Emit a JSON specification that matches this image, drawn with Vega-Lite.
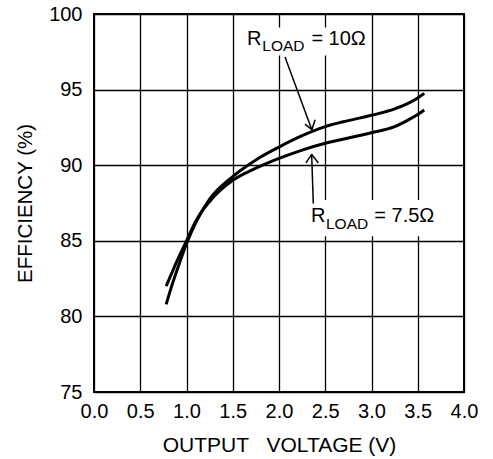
{
  "$schema": "https://vega.github.io/schema/vega-lite/v6.json",
  "width": 370,
  "height": 378,
  "autosize": {"type": "none"},
  "padding": {"left": 94, "top": 14, "right": 29, "bottom": 67},
  "background": "white",
  "config": {
    "font": "Liberation Sans",
    "view": {"stroke": "black", "strokeWidth": 2},
    "axis": {
      "domain": false,
      "ticks": false,
      "grid": true,
      "gridColor": "black",
      "gridWidth": 1.3,
      "gridOpacity": 1,
      "labelFlush": false,
      "labelOverlap": false,
      "labelFont": "Liberation Sans",
      "labelFontSize": 20,
      "labelColor": "black",
      "titleFont": "Liberation Sans",
      "titleFontSize": 21,
      "titleFontWeight": "normal",
      "titleColor": "black"
    }
  },
  "datasets": {
    "curves": [
      {"v": 0.78, "eff": 80.8, "load": "10"},
      {"v": 0.85, "eff": 82.2, "load": "10"},
      {"v": 0.9, "eff": 83.1, "load": "10"},
      {"v": 1.0, "eff": 84.8, "load": "10"},
      {"v": 1.1, "eff": 86.2, "load": "10"},
      {"v": 1.25, "eff": 87.75, "load": "10"},
      {"v": 1.5, "eff": 89.25, "load": "10"},
      {"v": 1.75, "eff": 90.35, "load": "10"},
      {"v": 2.0, "eff": 91.2, "load": "10"},
      {"v": 2.25, "eff": 91.95, "load": "10"},
      {"v": 2.5, "eff": 92.55, "load": "10"},
      {"v": 2.75, "eff": 92.95, "load": "10"},
      {"v": 3.0, "eff": 93.3, "load": "10"},
      {"v": 3.25, "eff": 93.72, "load": "10"},
      {"v": 3.4, "eff": 94.1, "load": "10"},
      {"v": 3.5, "eff": 94.45, "load": "10"},
      {"v": 3.57, "eff": 94.75, "load": "10"},
      {"v": 0.78, "eff": 82.0, "load": "7.5"},
      {"v": 0.85, "eff": 83.0, "load": "7.5"},
      {"v": 0.9, "eff": 83.7, "load": "7.5"},
      {"v": 1.0, "eff": 85.0, "load": "7.5"},
      {"v": 1.1, "eff": 86.3, "load": "7.5"},
      {"v": 1.25, "eff": 87.6, "load": "7.5"},
      {"v": 1.5, "eff": 89.0, "load": "7.5"},
      {"v": 1.75, "eff": 89.8, "load": "7.5"},
      {"v": 2.0, "eff": 90.45, "load": "7.5"},
      {"v": 2.25, "eff": 91.0, "load": "7.5"},
      {"v": 2.5, "eff": 91.45, "load": "7.5"},
      {"v": 2.75, "eff": 91.8, "load": "7.5"},
      {"v": 3.0, "eff": 92.15, "load": "7.5"},
      {"v": 3.25, "eff": 92.55, "load": "7.5"},
      {"v": 3.4, "eff": 93.0, "load": "7.5"},
      {"v": 3.5, "eff": 93.35, "load": "7.5"},
      {"v": 3.57, "eff": 93.65, "load": "7.5"}
    ],
    "boxes": [
      {"x1": 1.63, "x2": 2.97, "y1": 99.1, "y2": 97.25},
      {"x1": 2.31, "x2": 3.72, "y1": 87.7, "y2": 85.3}
    ],
    "segments": [
      {"x1": 2.065, "y1": 97.15, "x2": 2.355, "y2": 92.35},
      {"x1": 2.355, "y1": 92.35, "x2": 2.281, "y2": 92.72},
      {"x1": 2.355, "y1": 92.35, "x2": 2.39, "y2": 93.0},
      {"x1": 2.371, "y1": 87.46, "x2": 2.353, "y2": 90.72},
      {"x1": 2.353, "y1": 90.72, "x2": 2.292, "y2": 90.15},
      {"x1": 2.353, "y1": 90.72, "x2": 2.425, "y2": 90.15}
    ],
    "labels": [
      {"x": 1.654, "y": 97.92, "t": "R", "s": "main"},
      {"x": 1.82, "y": 97.54, "t": "LOAD", "s": "sub"},
      {"x": 2.35, "y": 97.92, "t": "= 10Ω", "s": "main"},
      {"x": 2.346, "y": 86.25, "t": "R", "s": "main"},
      {"x": 2.508, "y": 85.81, "t": "LOAD", "s": "sub"},
      {"x": 3.03, "y": 86.25, "t": "= 7.5Ω", "s": "main"}
    ]
  },
  "layer": [
    {
      "data": {"name": "boxes"},
      "mark": {"type": "rect", "fill": "white", "stroke": null},
      "encoding": {
        "x": {"field": "x1", "type": "quantitative", "scale": {"domain": [0, 4], "padding": 0, "nice": false, "zero": false},
          "axis": {"values": [0, 0.5, 1, 1.5, 2, 2.5, 3, 3.5, 4], "format": ".1f", "labelPadding": 9, "title": "OUTPUT\u00a0\u00a0\u00a0VOLTAGE (V)", "titlePadding": 13}},
        "x2": {"field": "x2"},
        "y": {"field": "y1", "type": "quantitative", "scale": {"domain": [75, 100], "padding": 0, "nice": false, "zero": false},
          "axis": {"values": [75, 80, 85, 90, 95, 100], "labelPadding": 12, "title": "EFFICIENCY (%)", "titleFontSize": 20.5, "titlePadding": 13}},
        "y2": {"field": "y2"}
      }
    },
    {
      "data": {"name": "curves"},
      "mark": {"type": "line", "color": "black", "strokeWidth": 3, "interpolate": "monotone"},
      "encoding": {
        "x": {"field": "v", "type": "quantitative"},
        "y": {"field": "eff", "type": "quantitative"},
        "detail": {"field": "load"}
      }
    },
    {
      "data": {"name": "segments"},
      "mark": {"type": "rule", "color": "black", "strokeWidth": 1.5},
      "encoding": {
        "x": {"field": "x1", "type": "quantitative"},
        "y": {"field": "y1", "type": "quantitative"},
        "x2": {"field": "x2"},
        "y2": {"field": "y2"}
      }
    },
    {
      "data": {"name": "labels"},
      "mark": {"type": "text", "align": "left", "baseline": "alphabetic", "color": "black", "font": "Liberation Sans"},
      "encoding": {
        "x": {"field": "x", "type": "quantitative"},
        "y": {"field": "y", "type": "quantitative"},
        "text": {"field": "t"},
        "size": {"field": "s", "type": "nominal", "scale": {"domain": ["main", "sub"], "range": [20, 15.5]}, "legend": null}
      }
    }
  ]
}
